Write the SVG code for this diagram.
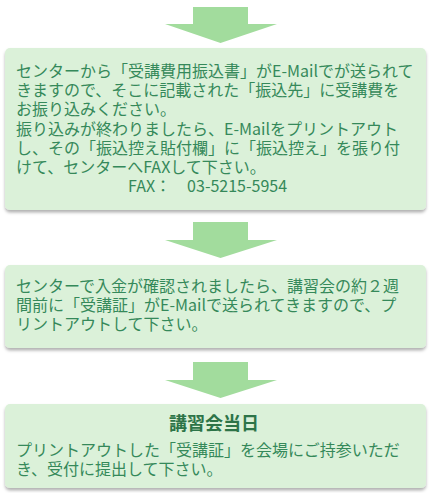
<svg xmlns="http://www.w3.org/2000/svg" width="431" height="493" viewBox="0 0 431 493">
<style>
.box{fill:#dbf1d9;filter:url(#sh)}
.arrow{fill:#a2dc9d}
.t{font-family:"Noto Sans CJK JP","Noto Sans",sans-serif;font-size:16px;fill:#35895a}
.h{font-family:"Noto Sans CJK JP","Noto Sans",sans-serif;font-size:18px;font-weight:bold;fill:#2d7448}
</style>
<defs>
<filter id="sh" x="-5%" y="-10%" width="110%" height="130%">
<feDropShadow dx="0" dy="2.5" stdDeviation="1.5" flood-color="#000" flood-opacity="0.3"/>
</filter>
</defs>
<rect width="431" height="493" fill="#fff"/>
<g id="connectors">
<polygon class="arrow" points="193,7 248,7 248,24 277,24 220.5,43 165,24 193,24"/>
<polygon class="arrow" points="193,222 248,222 248,240 277,240 220.5,258 165,240 193,240"/>
<polygon class="arrow" points="193,362 248,362 248,380 277,380 220.5,398 165,380 193,380"/>
</g>
<g id="step1">
<rect class="box" x="5" y="48" width="421" height="162" rx="5"/>
<text class="t" x="16" y="77">センターから「受講費用振込書」がE-Mailでが送られて</text>
<text class="t" x="16" y="96.2">きますので、そこに記載された「振込先」に受講費を</text>
<text class="t" x="16" y="115.4">お振り込みください。</text>
<text class="t" x="16" y="134.6">振り込みが終わりましたら、E-Mailをプリントアウト</text>
<text class="t" x="16" y="153.8">し、その「振込控え貼付欄」に「振込控え」を張り付</text>
<text class="t" x="16" y="173">けて、センターへFAXして下さい。</text>
<text class="t" x="128" y="192.2">FAX：　03-5215-5954</text>
</g>
<g id="step2">
<rect class="box" x="5" y="265" width="421" height="83" rx="5"/>
<text class="t" x="16" y="292">センターで入金が確認されましたら、講習会の約２週</text>
<text class="t" x="16" y="311">間前に「受講証」がE-Mailで送られてきますので、プ</text>
<text class="t" x="16" y="330">リントアウトして下さい。</text>
</g>
<g id="step3">
<rect class="box" x="5" y="404" width="421" height="84" rx="5"/>
<text class="h" x="214" y="430" text-anchor="middle">講習会当日</text>
<text class="t" x="16" y="456">プリントアウトした「受講証」を会場にご持参いただ</text>
<text class="t" x="16" y="474.5">き、受付に提出して下さい。</text>
</g>
</svg>
